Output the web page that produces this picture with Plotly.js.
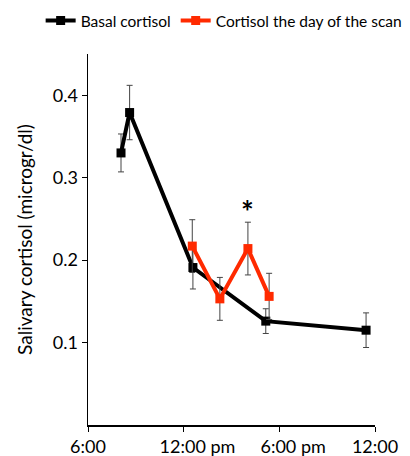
<!DOCTYPE html>
<html>
<head>
<meta charset="utf-8">
<script src="https://cdn.plot.ly/plotly-3.0.1.min.js"></script>
<style>html,body{margin:0;padding:0;background:#fff;}#chart{width:410px;height:456px;}</style>
</head>
<body>
<div id="chart"></div>
<script>
// Time of day in hours (6 = 6:00 am, 24 = 12:00 midnight)
const basalHours = [8.07, 8.61, 12.58, 17.15, 23.44];
const basalValues = [0.330, 0.379, 0.191, 0.126, 0.115];
const basalErrors = [0.023, 0.033, 0.026, 0.015, 0.021];

const scanHours = [12.54, 14.27, 16.03, 17.36];
const scanValues = [0.217, 0.153, 0.214, 0.156];
const scanErrors = [0.032, 0.026, 0.032, 0.028];

const xTickVals = [6, 12, 18, 24];
const xTickText = ["6:00", "12:00 pm", "6:00 pm", "12:00"];
const yTickVals = [0.1, 0.2, 0.3, 0.4];
const yTickText = ["0.1", "0.2", "0.3", "0.4"];

const starHour = 16.03;
const starValue = 0.259;

const font = "Lato, 'Open Sans', sans-serif";

// the reference centres the clock part of "… pm" labels on the tick
const pad = s => (s.endsWith(" pm") ? "\u00a0".repeat(6) + s : s);

const traces = [
  {
    name: "Basal cortisol",
    x: basalHours, y: basalValues, type: "scatter", mode: "lines+markers",
    line: {color: "#000000", width: 4},
    marker: {symbol: "square", size: 9, color: "#000000"},
    error_y: {type: "data", array: basalErrors, visible: true, color: "#444444", thickness: 1, width: 3}
  },
  {
    name: "Cortisol the day of the scan",
    x: scanHours, y: scanValues, type: "scatter", mode: "lines+markers",
    line: {color: "#ff2a00", width: 4},
    marker: {symbol: "square", size: 9, color: "#ff2a00"},
    error_y: {type: "data", array: scanErrors, visible: true, color: "#444444", thickness: 1, width: 3}
  }
];

const layout = {
  width: 410, height: 456,
  margin: {l: 88, r: 35, t: 54, b: 31, autoexpand: false},
  paper_bgcolor: "#ffffff", plot_bgcolor: "#ffffff",
  font: {family: font, size: 15, color: "#000000"},
  showlegend: true,
  legend: {
    orientation: "h", x: -0.165, xanchor: "left", y: 1.135, yanchor: "top",
    font: {family: font, size: 15.5, color: "#000000"},
    itemwidth: 30, tracegroupgap: 0, bgcolor: "rgba(0,0,0,0)"
  },
  xaxis: {
    range: [6, 24], tickvals: xTickVals, ticktext: xTickText.map(pad), tickangle: 0,
    showgrid: false, zeroline: false, showline: true, linecolor: "#000000", linewidth: 1.5,
    ticks: "outside", ticklen: 5, tickwidth: 1, tickcolor: "#000000",
    tickfont: {family: font, size: 18, color: "#000000"}
  },
  yaxis: {
    range: [0, 0.45], tickvals: yTickVals, ticktext: yTickText,
    showgrid: false, zeroline: false, showline: true, linecolor: "#000000", linewidth: 1.5,
    ticks: "outside", ticklen: 5, tickwidth: 1, tickcolor: "#000000",
    tickfont: {family: font, size: 18, color: "#000000"},
    title: {text: "Salivary cortisol (microgr/dl)", font: {family: font, size: 19, color: "#000000"}, standoff: 15}
  },
  annotations: [
    {x: starHour, y: starValue, xref: "x", yref: "y", text: "<b>*</b>", showarrow: false,
     font: {family: font, size: 30, color: "#000000"}}
  ]
};

Plotly.newPlot("chart", traces, layout, {displayModeBar: false, staticPlot: true});
</script>
</body>
</html>
